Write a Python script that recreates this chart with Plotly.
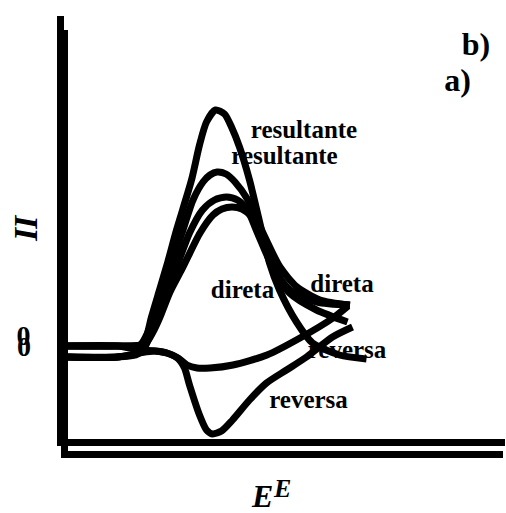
import plotly.graph_objects as go

# Square-wave voltammograms (arbitrary units): a) reversible, b) irreversible system
# Panel a)
Ea_res = [0, 50, 70, 78, 84, 92, 100, 109, 124, 132, 139, 148, 157, 164, 172, 182, 194, 202, 212, 229, 245, 272, 299]
Ia_res = [0, 0, 3, 17, 40, 67, 94, 127, 177, 212, 235, 247, 243, 230, 210, 177, 127, 94, 67, 35, 14, 2, -2]
Ea_dir = [0, 50, 74, 82, 89, 98, 109, 122, 135, 147, 159, 170, 180, 190, 205, 222, 249, 280]
Ia_dir = [0, 0, 5, 20, 40, 65, 90, 124, 147, 157, 160, 157, 147, 124, 90, 64, 47, 35]
Ea_rev = [0, 50, 72, 87, 99, 110, 117, 122, 132, 139, 145, 154, 165, 182, 199, 219, 239, 265, 285]
Ia_rev = [0, 0, 4, 6, 4, -1, -11, -28, -58, -73, -77, -74, -63, -43, -26, -13, 0, 20, 30]

# Panel b)
Eb_res = [0, 54, 76, 84, 91, 99, 108, 118, 129, 139, 146, 153, 162, 171, 184, 199, 216, 233, 256, 286]
Ib_res = [0, 0, 1, 14, 34, 56, 83, 113, 146, 164, 171, 174, 172, 164, 146, 113, 79, 59, 46, 41]
Eb_dir = [0, 54, 81, 89, 96, 106, 119, 136, 149, 158, 168, 178, 188, 196, 209, 226, 253, 286]
Ib_dir = [0, 0, 2, 14, 29, 54, 79, 113, 131, 137, 139, 137, 129, 113, 79, 56, 44, 41]
Eb_rev = [0, 54, 76, 91, 103, 114, 123, 133, 146, 169, 203, 236, 269, 284]
Ib_rev = [0, 0, -4, -5, -7, -12, -19, -22, -22, -19, -9, 8, 28, 40]

# Curve labels: (text, E, I)
labels_a = [("resultante", 217, 199), ("direta", 175, 65), ("reversa", 241, -45), ("a)", 390, 274)]
labels_b = [("resultante", 240, 214), ("direta", 278, 60), ("reversa", 283, -6), ("b)", 412, 299)]
zero_tick = [0]
zero_text = ["0"]

W, H = 506, 513
serif = "Liberation Serif"
LW = 7

fig = go.Figure()

def add_text(labels, xa, ya):
    for txt, e, i in labels:
        size = 32 if txt.endswith(")") else 25
        fig.add_trace(go.Scatter(
            x=[e], y=[i], mode="text", text=[txt], textposition="middle center",
            textfont=dict(family=serif, size=size, color="black", weight="bold"),
            xaxis=xa, yaxis=ya, showlegend=False, hoverinfo="skip"))

def add_curve(E, I, xa, ya):
    fig.add_trace(go.Scatter(
        x=E, y=I, mode="lines", line=dict(color="black", width=LW, shape="spline", smoothing=0.7),
        xaxis=xa, yaxis=ya, showlegend=False, hoverinfo="skip"))

# panel b on the first (lower) layer, panel a drawn over it
add_text(labels_b, "x", "y")
for E, I in [(Eb_res, Ib_res), (Eb_dir, Ib_dir), (Eb_rev, Ib_rev)]:
    add_curve(E, I, "x", "y")
add_text(labels_a, "x2", "y2")
for E, I in [(Ea_res, Ia_res), (Ea_dir, Ia_dir), (Ea_rev, Ia_rev)]:
    add_curve(E, I, "x2", "y2")

def px_dom(left, right):
    return [left / W, right / W]

def py_dom(top, bottom):
    return [(H - bottom) / H, (H - top) / H]

axis_common = dict(showline=True, linewidth=7, linecolor="black", showgrid=False,
                   zeroline=False, ticks="", fixedrange=True)
tick_font = dict(family=serif, size=28, color="black", weight="bold")

fig.update_layout(
    width=W, height=H, margin=dict(l=0, r=0, t=0, b=0),
    paper_bgcolor="white", plot_bgcolor="rgba(0,0,0,0)",
    xaxis=dict(domain=px_dom(64, 505), range=[0, 441], showticklabels=False, **axis_common),
    yaxis=dict(domain=py_dom(16, 438.5), range=[-92.5, 330], tickvals=zero_tick, ticktext=zero_text,
               tickfont=tick_font, ticklabelshift=-11, ticklabelstandoff=21, **axis_common),
    xaxis2=dict(domain=px_dom(67.5, 503), range=[0, 435.5], anchor="y2", showticklabels=False, **axis_common),
    yaxis2=dict(domain=py_dom(30, 450.5), range=[-93.5, 327], anchor="x2", tickvals=zero_tick,
                ticktext=zero_text, tickfont=tick_font, ticklabelshift=-11, ticklabelstandoff=24, **axis_common),
)

# Axis titles
title_font = dict(family=serif, color="black", weight="bold", style="italic")
for txt, x, y, size, angle in [("I", 25, 222, 34, -90), ("I", 25, 234, 34, -90),
                               ("E", 282, 488, 26, 0), ("E", 262, 496, 32, 0)]:
    fig.add_annotation(text=txt, x=x / W, y=(H - y) / H, xref="paper", yref="paper",
                       showarrow=False, textangle=angle, xanchor="center", yanchor="middle",
                       font=dict(size=size, **title_font))

fig.write_html("out.html")
